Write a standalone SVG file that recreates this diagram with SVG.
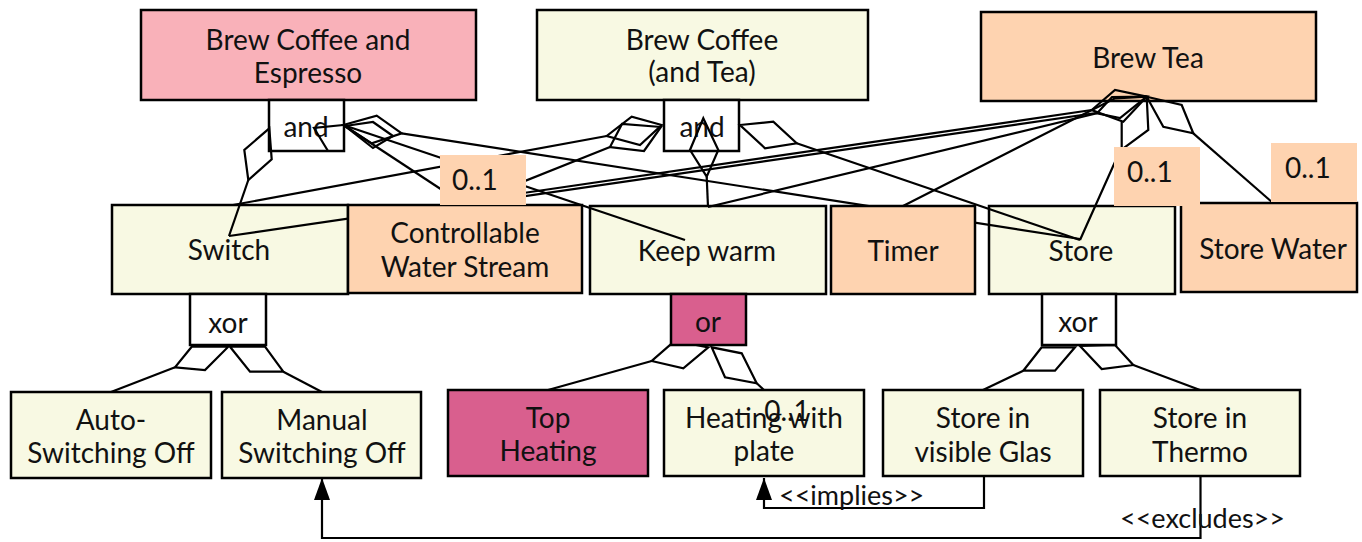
<svg xmlns="http://www.w3.org/2000/svg" width="1362" height="542" viewBox="0 0 1362 542">
<style>
.box{stroke:#000;stroke-width:2.5}
.pk{fill:#f9b1b9}.yl{fill:#f8f9e3}.pe{fill:#fed3b0}.mg{fill:#d95f8e}.wh{fill:#fff}
.lb{fill:#fed3b0;stroke:none}
text{font-family:Lato,"Open Sans","Liberation Sans",sans-serif;font-size:28px;fill:#111;text-anchor:middle}
.l{text-anchor:start}
.c{fill:none;stroke:#000;stroke-width:2.2;stroke-linejoin:miter}
</style>
<defs>
<marker id="arr" markerUnits="userSpaceOnUse" markerWidth="24" markerHeight="16" refX="22" refY="8" orient="auto">
<path d="M0,0 L22,8 L0,16 z" fill="#000"/>
</marker>
</defs>
<g id="n-bce"><rect class="box pk" x="141" y="10" width="335" height="90"/><text x="308" y="50">Brew Coffee and</text><text x="308" y="83">Espresso</text></g>
<g id="n-bct"><rect class="box yl" x="537" y="10" width="331" height="90"/><text x="702" y="50">Brew Coffee</text><text x="702" y="82">(and Tea)</text></g>
<g id="n-bt"><rect class="box pe" x="981" y="12" width="335" height="89"/><text x="1148" y="68">Brew Tea</text></g>
<g id="op-and1"><rect class="box wh" x="269" y="100" width="75" height="51"/><text x="306" y="137">and</text></g>
<g id="op-and2"><rect class="box wh" x="664" y="100" width="75" height="51"/><text x="702" y="137">and</text></g>
<g id="n-switch"><rect class="box yl" x="112" y="205" width="236" height="89"/><text x="229" y="260">Switch</text></g>
<g id="n-keep"><rect class="box yl" x="590" y="206" width="236" height="88"/><text x="707" y="261">Keep warm</text></g>
<g id="n-store"><rect class="box yl" x="989" y="206" width="186" height="88"/><text x="1081" y="261">Store</text></g>
<g id="connectors">
<!-- Brew Coffee and Espresso -->
<polygon class="c" points="269.3,128.3 244.3,150 248.3,180 271.7,159.3"/>
<polyline class="c" points="248.3,180 229,236"/>
<polygon class="c" points="343.3,125 376.7,115.7 401.7,133.3 371.7,143.3"/>
<polygon class="c" points="345,126 373,122 393,136 373,148"/>
<polyline class="c" points="401.7,133.3 1080,239"/>
<polyline class="c" points="343.3,125 685,240"/>
<polyline class="c" points="343.3,125 465,205"/>
<polyline class="c" points="328,151 314,128 343.3,125"/>
<!-- Brew Coffee (and Tea) -->
<polygon class="c" points="661.7,125 631.7,116.7 606.7,136 640,145"/>
<polygon class="c" points="661,127 622,124 610,147 644,151"/>
<polyline class="c" points="606.7,136 233,205"/>
<polyline class="c" points="610,147 465,205"/>
<polygon class="c" points="703.3,118.3 690,150 706.7,176.7 718.3,150"/>
<polyline class="c" points="706.7,176.7 708,207"/>
<polygon class="c" points="740,125 773.3,121.7 796.7,143.3 765,148.3"/>
<polyline class="c" points="796.7,143.3 1080,240"/>
<!-- Brew Tea -->
<polygon class="c" points="1146.7,96.7 1115,90 1091.7,110 1123.3,121.7"/>
<polygon class="c" points="1146.7,96.7 1112,97 1097,113.3 1120,118"/>
<polyline class="c" points="1091.7,110 229,236"/>
<polyline class="c" points="1096,113 465,205"/>
<polyline class="c" points="1097,113.3 708,207"/>
<polyline class="c" points="1146.7,96.7 1115,98.3 903,206"/>
<polyline class="c" points="1121.7,121.7 1121.7,147 1080,240"/>
<polyline class="c" points="1146.7,96.7 1148.3,130 1123.3,148.3"/>
<polygon class="c" points="1146.7,96.7 1181.7,105 1193.3,133.3 1163.3,126.7"/>
<polyline class="c" points="1193.3,133.3 1273.3,203.3"/>
<!-- xor 1 -->
<polygon class="c" points="191.7,346.7 175,367.3 205,370 228.3,346.7"/>
<polyline class="c" points="175,367.3 111,392"/>
<polygon class="c" points="230,346.7 250,371.7 283.3,371.7 265,346.7"/>
<polyline class="c" points="283.3,371.7 322,392"/>
<!-- or -->
<polygon class="c" points="675,340.7 651.7,361 683.3,368.3 708.3,347.3"/>
<polyline class="c" points="651.7,361 548,390"/>
<polygon class="c" points="711.7,347.3 725,377.3 756.7,383.3 741.7,353.3"/>
<polyline class="c" points="756.7,383.3 764,390"/>
<!-- xor 2 -->
<polygon class="c" points="1041.7,347.3 1023.3,370.7 1055,370.7 1075,347.3"/>
<polyline class="c" points="1023.3,370.7 983,390"/>
<polygon class="c" points="1080,346 1101.7,369 1133.3,365 1115,345"/>
<polyline class="c" points="1133.3,365 1200,390"/>
<!-- constraints -->
<polyline class="c" points="984,476 984,508 764,508 764,478" marker-end="url(#arr)"/>
<text class="l" x="779" y="505" style="font-size:27px">&lt;&lt;implies&gt;&gt;</text>
<polyline class="c" points="1200.5,476 1200.5,538 322,538 322,478" marker-end="url(#arr)"/>
<text class="l" x="1120" y="528" style="font-size:27px">&lt;&lt;excludes&gt;&gt;</text>
</g>
<g id="n-cws"><rect class="box pe" x="348" y="205" width="234" height="88"/><text x="465" y="243">Controllable</text><text x="465" y="277">Water Stream</text></g>
<g id="n-timer"><rect class="box pe" x="831" y="206" width="144" height="88"/><text x="903" y="261">Timer</text></g>
<g id="n-sw"><rect class="box pe" x="1181" y="203" width="176" height="89"/><text x="1273" y="259">Store Water</text></g>
<g id="card-cws"><rect class="lb" x="440" y="155" width="86" height="50"/><text class="l" x="452" y="190">0..1</text></g>
<g id="card-store"><rect class="lb" x="1114" y="147" width="86" height="59"/><text class="l" x="1127" y="182">0..1</text></g>
<g id="card-sw"><rect class="lb" x="1271" y="143" width="86" height="59"/><text class="l" x="1285" y="178">0..1</text></g>
<g id="op-xor1"><rect class="box wh" x="190" y="294" width="76" height="51"/><text x="228" y="333">xor</text></g>
<g id="op-or"><rect class="box mg" x="671" y="294" width="75" height="51"/><text x="708" y="332">or</text></g>
<g id="op-xor2"><rect class="box wh" x="1042" y="294" width="74" height="51"/><text x="1078" y="332">xor</text></g>
<g id="n-auto"><rect class="box yl" x="11" y="392" width="200" height="86"/><text x="111" y="430">Auto-</text><text x="111" y="463">Switching Off</text></g>
<g id="n-manual"><rect class="box yl" x="222" y="392" width="199" height="86"/><text x="322" y="430">Manual</text><text x="322" y="463">Switching Off</text></g>
<g id="n-top"><rect class="box mg" x="448" y="390" width="200" height="86"/><text x="548" y="428">Top</text><text x="548" y="461">Heating</text></g>
<g id="n-plate"><rect class="box yl" x="664" y="390" width="200" height="86"/><text x="764" y="428">Heating with</text><text x="764" y="461">plate</text><text x="787" y="421">0..1</text></g>
<g id="n-glas"><rect class="box yl" x="883" y="390" width="200" height="86"/><text x="983" y="428">Store in</text><text x="983" y="462">visible Glas</text></g>
<g id="n-thermo"><rect class="box yl" x="1100" y="390" width="200" height="86"/><text x="1200" y="428">Store in</text><text x="1200" y="462">Thermo</text></g>
</svg>
